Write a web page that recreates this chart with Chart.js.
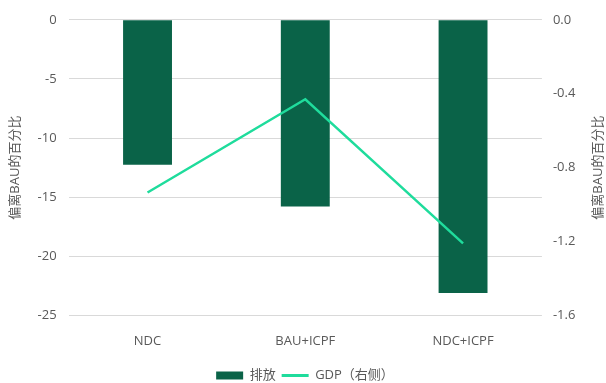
<!DOCTYPE html>
<html>
<head>
<meta charset="utf-8">
<script src="https://cdn.jsdelivr.net/npm/chart.js@4"></script>
<style>
  html, body { margin: 0; padding: 0; background: #fff; }
  #wrap { width: 606px; height: 383px; }
</style>
</head>
<body>
<div id="wrap"><canvas id="emisChart"></canvas></div>
<script>
// 情景与数值
const scenarios = ['NDC', 'BAU+ICPF', 'NDC+ICPF'];
const emissions = [-12.25, -15.8, -23.1];
const gdp = [-0.935, -0.43, -1.21];
const axisTitle = '偏离BAU的百分比';

const FONT = '"Open Sans", "Noto Sans CJK SC", sans-serif';
const barColor = '#0a6348';
const lineColor = '#1fdc9c';

// 右侧轴标题与左侧同向绘制
const rightTitle = {
  id: 'rightTitle',
  afterDraw(chart) {
    const { ctx, chartArea } = chart;
    ctx.save();
    ctx.font = '13px ' + FONT;
    ctx.fillStyle = '#595959';
    ctx.textAlign = 'center';
    ctx.textBaseline = 'middle';
    ctx.translate(598, (chartArea.top + chartArea.bottom) / 2);
    ctx.rotate(-Math.PI / 2);
    ctx.fillText(axisTitle, 0, 0);
    ctx.restore();
  }
};

const ctx = document.getElementById('emisChart').getContext('2d');
new Chart(ctx, {
  data: {
    labels: scenarios,
    datasets: [
      {
        type: 'line',
        label: 'GDP（右侧）',
        data: gdp,
        yAxisID: 'y2',
        borderColor: lineColor,
        backgroundColor: lineColor,
        borderWidth: 2.5,
        pointRadius: 0,
        tension: 0,
        order: 0
      },
      {
        type: 'bar',
        label: '排放',
        data: emissions,
        yAxisID: 'y',
        backgroundColor: barColor,
        barPercentage: 0.31,
        categoryPercentage: 1,
        order: 1
      }
    ]
  },
  options: {
    responsive: true,
    maintainAspectRatio: false,
    animation: false,
    layout: { padding: { top: 12, left: 4, right: 0, bottom: -9 } },
    scales: {
      x: {
        grid: { display: false },
        border: { display: false },
        ticks: { color: '#595959', font: { family: FONT, size: 13 }, padding: 10 },
        // 标签下方留出一点空间
        afterFit(scale) { scale.height += 4; }
      },
      y: {
        position: 'left',
        min: -25,
        max: 0,
        ticks: { stepSize: 5, color: '#595959', font: { family: FONT, size: 13 }, padding: 12 },
        grid: { color: '#d9d9d9', drawTicks: false },
        border: { display: false },
        title: { display: true, text: axisTitle, color: '#595959', font: { family: FONT, size: 13 }, padding: 3 }
      },
      y2: {
        position: 'right',
        min: -1.6,
        max: 0,
        ticks: {
          stepSize: 0.4,
          color: '#595959',
          font: { family: FONT, size: 13 },
          padding: 11,
          callback: v => v.toFixed(1)
        },
        grid: { display: false, drawTicks: false },
        border: { display: false },
        title: { display: true, text: axisTitle, color: 'rgba(0,0,0,0)', font: { family: FONT, size: 13 }, padding: 2 }
      }
    },
    plugins: {
      tooltip: { enabled: false },
      legend: {
        position: 'bottom',
        reverse: true,
        labels: {
          color: '#595959',
          font: { family: FONT, size: 13 },
          usePointStyle: true,
          pointStyleWidth: 27,
          boxHeight: 8,
          padding: 6,
          generateLabels(chart) {
            return chart.data.datasets.map((ds, i) => ({
              text: ds.label,
              fillStyle: ds.type === 'bar' ? barColor : lineColor,
              strokeStyle: ds.type === 'bar' ? barColor : lineColor,
              lineWidth: ds.type === 'bar' ? 0 : 3,
              pointStyle: ds.type === 'bar' ? 'rect' : 'line',
              fontColor: '#595959',
              datasetIndex: i,
              hidden: false
            }));
          }
        }
      }
    }
  },
  plugins: [rightTitle]
});
</script>
</body>
</html>
